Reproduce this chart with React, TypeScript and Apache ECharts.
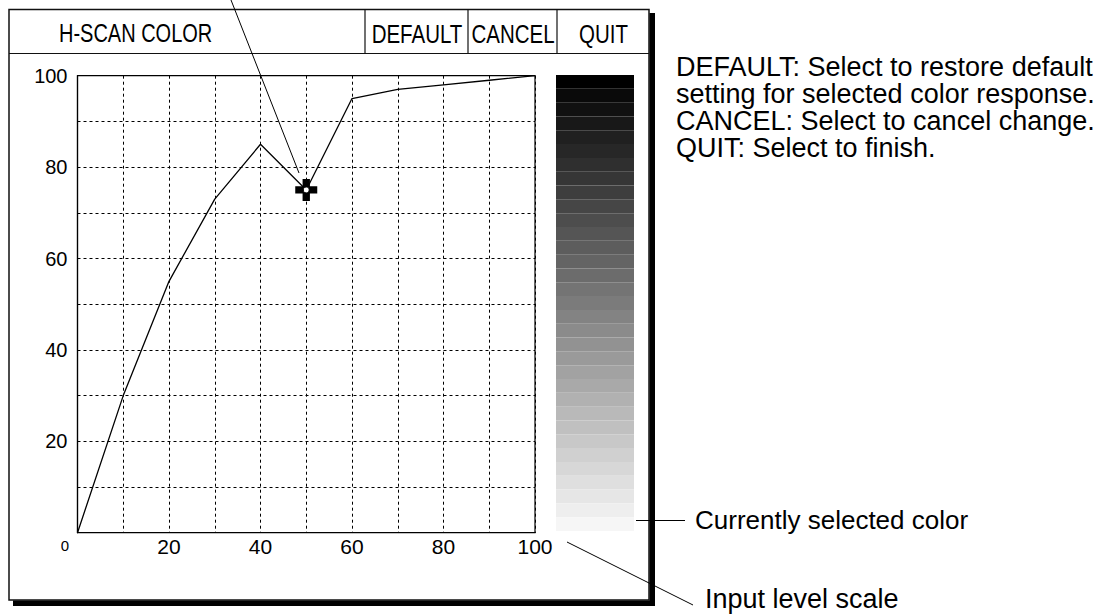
import React, { useEffect, useRef } from "react";
import * as echarts from "echarts";

// ---- data ----
const inputLevels = [0, 10, 20, 30, 40, 50, 60, 70, 80, 90, 100];
const outputLevels = [0, 30, 55, 73, 85, 75, 95, 97, 98, 99, 100];
const cursorPoint = [50, 75];
const xTickLabels = [20, 40, 60, 80, 100];
const yTickLabels = [20, 40, 60, 80, 100];
const originLabel = "0";
// gray levels of the colour bar, top to bottom
const grayLevels = [
  0, 10, 17, 24, 32, 39, 47, 54, 62, 70, 77, 85, 93, 100, 108, 116, 123,
  131, 139, 146, 154, 162, 169, 177, 185, 192, 200, 208, 215, 223, 230, 238, 246,
];
const headerTitle = "H-SCAN COLOR";
const headerButtons = ["DEFAULT", "CANCEL", "QUIT"];
const helpLines = [
  "DEFAULT: Select to restore default",
  "setting for selected color response.",
  "CANCEL: Select to cancel change.",
  "QUIT: Select to finish.",
];
const noteColor = "Currently selected color";
const noteScale = "Input level scale";

const FONT = "'Liberation Sans', Arial, Helvetica, sans-serif";

export default function App() {
  const ref = useRef<HTMLDivElement>(null);
  useEffect(() => {
    if (!ref.current) return;
    const chart = echarts.init(ref.current, null, { renderer: "svg" });

    const hex = (g: number) => {
      const h = g.toString(16).padStart(2, "0");
      return "#" + h + h + h;
    };

    const btnCells = [
      [365, 468],
      [468, 557],
      [557, 649],
    ];

    const graphic: any[] = [
      // frame
      { type: "rect", shape: { x: 9, y: 9.5, width: 640, height: 590.5 }, style: { fill: "none", stroke: "#111", lineWidth: 1.5 } },
      { type: "rect", shape: { x: 649.5, y: 13, width: 5.5, height: 593 }, style: { fill: "#000" } },
      { type: "rect", shape: { x: 13, y: 600.5, width: 642, height: 5.5 }, style: { fill: "#000" } },
      // header
      { type: "line", shape: { x1: 9, y1: 53.5, x2: 649, y2: 53.5 }, style: { stroke: "#111", lineWidth: 1.2 } },
      ...[365, 468, 557].map((x) => ({
        type: "line",
        shape: { x1: x, y1: 9.5, x2: x, y2: 53.5 },
        style: { stroke: "#111", lineWidth: 1.2 },
      })),
      {
        type: "text", x: 59, y: 34, scaleX: 0.8,
        style: { text: headerTitle, fill: "#000", font: `25px ${FONT}`, textAlign: "left", textVerticalAlign: "middle" },
      },
      ...headerButtons.map((t, i) => ({
        type: "text", x: (btnCells[i][0] + btnCells[i][1]) / 2 + 0.5, y: 34, scaleX: 0.82,
        style: { text: t, fill: "#000", font: `25px ${FONT}`, textAlign: "center", textVerticalAlign: "middle" },
      })),
      // origin label
      {
        type: "text", x: 65, y: 545,
        style: { text: originLabel, fill: "#000", font: `15px ${FONT}`, textAlign: "center", textVerticalAlign: "middle" },
      },
      // callout line to cursor
      { type: "line", shape: { x1: 231, y1: 0, x2: 299, y2: 173 }, style: { stroke: "#000", lineWidth: 1 } },
      // help text (one block, 27px line pitch)
      {
        type: "text", x: 676, y: 53,
        style: {
          text: helpLines.join("\n"), fill: "#000", font: `27px ${FONT}`, lineHeight: 27,
          textAlign: "left", textVerticalAlign: "top",
        },
      },
      // notes
      { type: "line", shape: { x1: 636, y1: 520.5, x2: 685, y2: 520.5 }, style: { stroke: "#000", lineWidth: 1.2 } },
      {
        type: "text", x: 695, y: 520,
        style: { text: noteColor, fill: "#000", font: `26px ${FONT}`, textAlign: "left", textVerticalAlign: "middle" },
      },
      { type: "line", shape: { x1: 567, y1: 542, x2: 693, y2: 605 }, style: { stroke: "#000", lineWidth: 1 } },
      {
        type: "text", x: 705, y: 599,
        style: { text: noteScale, fill: "#000", font: `27px ${FONT}`, textAlign: "left", textVerticalAlign: "middle" },
      },
    ];

    chart.setOption({
      animation: false,
      backgroundColor: "#fff",
      grid: [
        { left: 77.5, top: 75.7, width: 457.5, height: 457, show: true, borderColor: "#000", borderWidth: 1.2, backgroundColor: "transparent" },
        { left: 556, top: 75, width: 78, height: 456 },
      ],
      xAxis: [
        {
          gridIndex: 0, type: "value", min: 0, max: 100, interval: 10,
          axisLine: { show: true, lineStyle: { color: "#000", width: 1.2 } },
          axisTick: { show: false },
          splitLine: { show: true, lineStyle: { color: "#000", type: [3, 3], width: 1 } },
          axisLabel: {
            color: "#000", fontSize: 21, fontFamily: FONT, margin: 3,
            formatter: (v: number) => (xTickLabels.includes(v) ? String(v) : ""),
          },
        },
        { gridIndex: 1, type: "value", min: 0, max: 1, show: false },
      ],
      yAxis: [
        {
          gridIndex: 0, type: "value", min: 0, max: 100, interval: 10,
          axisLine: { show: true, lineStyle: { color: "#000", width: 1.2 } },
          axisTick: { show: false },
          splitLine: { show: true, lineStyle: { color: "#000", type: [3, 3], width: 1 } },
          axisLabel: {
            color: "#000", fontSize: 20, fontFamily: FONT, margin: 10,
            formatter: (v: number) => (yTickLabels.includes(v) ? String(v) : ""),
          },
        },
        {
          gridIndex: 1, type: "category", inverse: true, show: false,
          data: grayLevels.map((_, i) => String(i)),
        },
      ],
      series: [
        {
          type: "line", xAxisIndex: 0, yAxisIndex: 0,
          data: inputLevels.map((x, i) => [x, outputLevels[i]]),
          showSymbol: false, symbol: "none",
          lineStyle: { color: "#000", width: 1.3 },
          z: 3,
        },
        {
          type: "scatter", xAxisIndex: 0, yAxisIndex: 0,
          data: [cursorPoint],
          symbol: "path://M7,0 H14 V7 H21 V14 H14 V21 H7 V14 H0 V7 H7 Z",
          symbolSize: 22,
          itemStyle: { color: "#000", opacity: 1 },
          z: 4,
        },
        {
          type: "scatter", xAxisIndex: 0, yAxisIndex: 0,
          data: [cursorPoint],
          symbol: "circle", symbolSize: 6,
          itemStyle: { color: "#fff", borderColor: "#000", borderWidth: 1, opacity: 1 },
          z: 5,
        },
        {
          type: "bar", xAxisIndex: 1, yAxisIndex: 1,
          barCategoryGap: 0, barWidth: "100%",
          data: grayLevels.map((g) => ({ value: 1, itemStyle: { color: hex(g) } })),
        },
      ],
      graphic,
    });
    return () => chart.dispose();
  }, []);
  return (
    <div
      ref={ref}
      style={{ position: "fixed", left: 0, top: 0, width: 1108, height: 616, background: "#fff" }}
    />
  );
}
